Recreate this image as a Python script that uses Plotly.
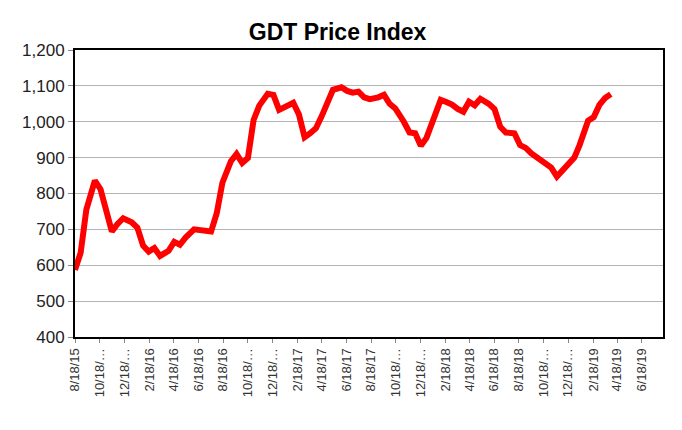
import plotly.graph_objects as go

dates = [
    "2015-08-18", "2015-09-01", "2015-09-15", "2015-10-06", "2015-10-20", "2015-11-03", "2015-11-17",
    "2015-12-01", "2015-12-15",
    "2016-01-05", "2016-01-19", "2016-02-02", "2016-02-16", "2016-03-01", "2016-03-15", "2016-04-05",
    "2016-04-19", "2016-05-03", "2016-05-17", "2016-06-07", "2016-06-21", "2016-07-05", "2016-07-19",
    "2016-08-02", "2016-08-16", "2016-09-06", "2016-09-20", "2016-10-04", "2016-10-18", "2016-11-01",
    "2016-11-15", "2016-12-06", "2016-12-20",
    "2017-01-03", "2017-01-17", "2017-02-07", "2017-02-21", "2017-03-07", "2017-03-21", "2017-04-04",
    "2017-04-18", "2017-05-02", "2017-05-16", "2017-06-06", "2017-06-20", "2017-07-04", "2017-07-18",
    "2017-08-01", "2017-08-15", "2017-09-05", "2017-09-19", "2017-10-03", "2017-10-17", "2017-11-07",
    "2017-11-21", "2017-12-05", "2017-12-19",
    "2018-01-02", "2018-01-16", "2018-02-06", "2018-02-20", "2018-03-06", "2018-03-20", "2018-04-03",
    "2018-04-17", "2018-05-01", "2018-05-15", "2018-06-05", "2018-06-19", "2018-07-03", "2018-07-17",
    "2018-08-07", "2018-08-21", "2018-09-04", "2018-09-18", "2018-10-02", "2018-10-16", "2018-11-06",
    "2018-11-20", "2018-12-04", "2018-12-18",
    "2019-01-02", "2019-01-15", "2019-02-05", "2019-02-19", "2019-03-05", "2019-03-19", "2019-04-02",
]

index_values = [
    587, 635, 755, 836, 812, 755, 694,
    715, 731,
    720, 705, 655, 638, 648, 626, 640,
    665, 657, 677, 700, 698, 698, 694,
    745, 830, 890, 910, 885, 899, 1005,
    1045, 1078, 1075,
    1033, 1040, 1053, 1020, 957, 968, 982,
    1015, 1050, 1089, 1096, 1086, 1081, 1084,
    1068, 1063, 1068, 1075, 1050, 1037, 1000,
    970, 968, 933,
    955, 995, 1061, 1055, 1048, 1036, 1028,
    1056, 1046, 1064, 1050, 1035, 986, 970,
    968, 935, 927, 912, 900, 893, 872,
    847, 864, 876,
    900, 935, 1003, 1013, 1047, 1066, 1077,
]

tick_dates = [
    "2015-08-18", "2015-10-18", "2015-12-18", "2016-02-18", "2016-04-18", "2016-06-18",
    "2016-08-18", "2016-10-18", "2016-12-18", "2017-02-18", "2017-04-18", "2017-06-18",
    "2017-08-18", "2017-10-18", "2017-12-18", "2018-02-18", "2018-04-18", "2018-06-18",
    "2018-08-18", "2018-10-18", "2018-12-18", "2019-02-18", "2019-04-18", "2019-06-18",
]
tick_labels = [
    "8/18/15", "10/18/…", "12/18/…", "2/18/16", "4/18/16", "6/18/16",
    "8/18/16", "10/18/…", "12/18/…", "2/18/17", "4/18/17", "6/18/17",
    "8/18/17", "10/18/…", "12/18/…", "2/18/18", "4/18/18", "6/18/18",
    "8/18/18", "10/18/…", "12/18/…", "2/18/19", "4/18/19", "6/18/19",
]

y_ticks = [400, 500, 600, 700, 800, 900, 1000, 1100, 1200]

fig = go.Figure()
fig.add_trace(go.Scatter(
    x=dates, y=index_values, mode="lines",
    line=dict(color="#ff0000", width=6),
    hoverinfo="x+y",
))

fig.update_layout(
    width=682, height=430,
    margin=dict(l=75, r=19, t=50, b=93),
    paper_bgcolor="white", plot_bgcolor="white",
    showlegend=False,
    title=dict(text="<b>GDT Price Index</b>", x=0.495, xanchor="center",
               y=0.925, yanchor="middle",
               font=dict(family="Liberation Sans, Arial", size=23, color="black")),
    font=dict(family="Liberation Sans, Arial", color="#222222"),
)

fig.update_xaxes(
    type="date",
    range=["2015-08-18", "2019-08-09"],
    tickmode="array", tickvals=tick_dates, ticktext=tick_labels,
    tickangle=-90,
    tickfont=dict(size=13, color="#333333"),
    ticks="outside", ticklen=4, tickcolor="#888888",
    showgrid=False, zeroline=False,
    showline=True, linecolor="black", linewidth=2, mirror=True,
)

fig.update_yaxes(
    range=[400, 1200],
    tickmode="array", tickvals=y_ticks,
    tickformat=",",
    tickfont=dict(size=17, color="#222222"),
    ticks="outside", ticklen=5, tickcolor="#888888",
    showgrid=True, gridcolor="#b4b4b4", gridwidth=1.2,
    zeroline=False,
    showline=True, linecolor="black", linewidth=2, mirror=True,
)

fig.write_html("out.html", config={"displayModeBar": False},
               post_script="document.body.style.margin='0';")
